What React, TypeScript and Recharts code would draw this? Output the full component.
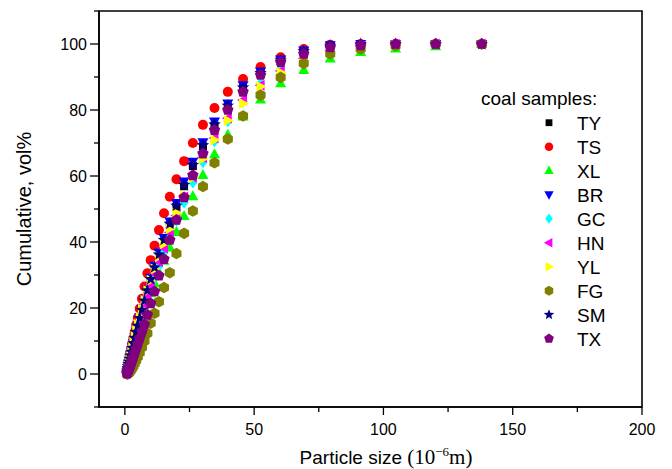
import React from "react";
import { ScatterChart, Scatter, XAxis, YAxis, Legend, Label, ReferenceArea } from "recharts";

// particle size bins (um), shared by every sample
const sizes = [
  0.83, 0.96, 1.1, 1.26, 1.45, 1.66, 1.91, 2.19, 2.51, 2.88, 3.31, 3.8, 4.37, 5.01, 5.75, 6.61,
  7.59, 8.71, 10.0, 11.48, 13.18, 15.14, 17.38, 19.95, 22.91, 26.3, 30.2, 34.67, 39.81, 45.71,
  52.48, 60.26, 69.18, 79.43, 91.2, 104.7, 120.2, 138.0,
];

// cumulative vol% per sample
const ty = [0.4, 1.0, 1.7, 2.3, 2.9, 3.6, 4.5, 5.4, 6.5, 7.8, 9.1, 10.7, 12.5, 14.4, 16.6, 19.1, 21.9, 25.0, 28.4, 31.9, 35.8, 40.2, 45.1, 50.7, 56.9, 63.0, 69.0, 75.3, 81.0, 86.6, 91.0, 94.9, 97.8, 99.6, 100, 100, 100, 100];
const ts = [0.5, 1.3, 2.1, 2.8, 3.6, 4.5, 5.5, 6.6, 7.9, 9.3, 10.9, 12.7, 14.8, 17.1, 19.8, 22.8, 26.5, 30.5, 34.5, 38.9, 43.6, 48.7, 53.7, 59.0, 64.5, 70.0, 75.5, 80.6, 85.5, 89.4, 93.0, 96.0, 98.5, 99.8, 100, 100, 100, 100];
const xl = [0.3, 0.7, 1.2, 1.8, 2.4, 3.1, 3.9, 4.8, 5.8, 7.0, 8.3, 9.7, 11.3, 13.0, 15.0, 17.0, 19.3, 21.8, 24.5, 27.5, 30.8, 34.3, 38.3, 43.0, 47.9, 53.9, 60.3, 66.6, 72.5, 78.0, 83.2, 88.1, 92.1, 95.6, 97.6, 98.6, 99.3, 100];
const br = [0.4, 1.1, 1.8, 2.4, 3.1, 3.8, 4.7, 5.7, 6.8, 8.1, 9.5, 11.1, 12.9, 14.9, 17.2, 19.8, 22.6, 25.7, 29.2, 32.8, 36.8, 41.2, 46.2, 51.8, 58.3, 64.3, 70.2, 76.5, 82.0, 87.5, 91.7, 95.3, 98.0, 99.6, 100, 100, 100, 100];
const gc = [0.3, 0.9, 1.5, 2.1, 2.8, 3.5, 4.3, 5.2, 6.2, 7.3, 8.6, 10.0, 11.6, 13.4, 15.4, 17.6, 20.1, 22.8, 25.8, 29.1, 32.7, 36.8, 41.4, 46.4, 52.0, 58.0, 64.2, 70.5, 76.6, 82.5, 88.0, 92.6, 96.2, 98.5, 99.6, 100, 100, 100];
const hn = [0.3, 0.9, 1.6, 2.2, 2.9, 3.6, 4.5, 5.4, 6.5, 7.6, 8.9, 10.4, 12.1, 14.0, 16.1, 18.4, 21.0, 23.8, 26.9, 30.3, 34.0, 38.2, 42.9, 48.0, 53.6, 59.6, 65.6, 71.5, 77.5, 83.0, 87.5, 91.8, 95.6, 98.0, 99.4, 99.9, 100, 100];
const yl = [0.4, 1.1, 1.8, 2.5, 3.2, 4.0, 4.9, 5.9, 7.0, 8.3, 9.7, 11.3, 13.1, 15.0, 17.2, 19.6, 22.3, 25.2, 28.4, 31.8, 35.5, 39.5, 44.0, 48.8, 54.0, 59.5, 65.2, 70.9, 76.8, 82.0, 87.1, 91.4, 95.0, 97.2, 99.0, 99.7, 100, 100];
const fg = [0.0, 0.05, 0.1, 0.2, 0.3, 0.5, 0.7, 1.0, 1.4, 1.9, 2.5, 3.2, 4.1, 5.2, 6.5, 8.1, 10.0, 12.3, 15.4, 18.4, 21.9, 26.2, 30.7, 36.5, 42.6, 49.4, 56.8, 64.0, 71.2, 78.2, 84.5, 89.9, 94.1, 97.0, 98.5, 99.5, 100, 100];
const sm = [0.4, 1.0, 1.7, 2.3, 3.0, 3.7, 4.6, 5.6, 6.7, 7.9, 9.3, 10.9, 12.7, 14.6, 16.9, 19.4, 22.2, 25.3, 28.7, 32.3, 36.2, 40.6, 45.5, 51.0, 57.3, 63.3, 69.3, 75.6, 81.3, 86.8, 91.2, 95.0, 97.8, 99.5, 100, 100, 100, 100];
const tx = [0.1, 0.3, 0.5, 0.8, 1.1, 1.5, 2.0, 2.6, 3.3, 4.1, 5.1, 6.3, 7.6, 9.1, 10.9, 12.8, 15.0, 17.9, 21.4, 25.0, 29.8, 34.8, 40.6, 46.7, 53.5, 60.2, 66.8, 73.9, 80.0, 85.5, 90.6, 94.5, 97.0, 99.0, 99.6, 100, 100, 100];

const xTicks = [0, 25, 50, 75, 100, 125, 150, 175, 200];
const yTicks = [-10, 0, 10, 20, 30, 40, 50, 60, 70, 80, 90, 100, 110];

const samples = [
  { name: "TY", color: "#000000", kind: "square", values: ty },
  { name: "TS", color: "#ff0000", kind: "circle", values: ts },
  { name: "XL", color: "#00ff00", kind: "up", values: xl },
  { name: "BR", color: "#0000ff", kind: "down", values: br },
  { name: "GC", color: "#00ffff", kind: "diamond", values: gc },
  { name: "HN", color: "#ff00ff", kind: "left", values: hn },
  { name: "YL", color: "#ffff00", kind: "right", values: yl },
  { name: "FG", color: "#808000", kind: "hexagon", values: fg },
  { name: "SM", color: "#000080", kind: "star", values: sm },
  { name: "TX", color: "#800080", kind: "pentagon", values: tx },
];

const NARROW = "'Liberation Sans Narrow', 'Arial Narrow', Arial, sans-serif";
const SANS = "Arial, 'Liberation Sans', sans-serif";
const SERIF = "'Liberation Serif', 'Times New Roman', serif";

function polygon(cx: number, cy: number, n: number, r: number, start: number) {
  const pts: string[] = [];
  for (let i = 0; i < n; i++) {
    const a = start + (i * 2 * Math.PI) / n;
    pts.push(`${cx + r * Math.cos(a)},${cy + r * Math.sin(a)}`);
  }
  return pts.join(" ");
}

function star(cx: number, cy: number, ro: number, ri: number) {
  const pts: string[] = [];
  for (let i = 0; i < 10; i++) {
    const r = i % 2 === 0 ? ro : ri;
    const a = -Math.PI / 2 + (i * Math.PI) / 5;
    pts.push(`${cx + r * Math.cos(a)},${cy + r * Math.sin(a)}`);
  }
  return pts.join(" ");
}

function Marker({ kind, cx, cy, color, k = 1 }: any) {
  if (cx == null || cy == null) return null;
  switch (kind) {
    case "square":
      return <rect x={cx - 4 * k} y={cy - 4 * k} width={8 * k} height={8 * k} fill={color} />;
    case "circle":
      return <circle cx={cx} cy={cy} r={5 * k} fill={color} />;
    case "up":
      return <polygon points={`${cx},${cy - 6 * k} ${cx + 5.5 * k},${cy + 4 * k} ${cx - 5.5 * k},${cy + 4 * k}`} fill={color} />;
    case "down":
      return <polygon points={`${cx},${cy + 6 * k} ${cx + 5.5 * k},${cy - 4 * k} ${cx - 5.5 * k},${cy - 4 * k}`} fill={color} />;
    case "left":
      return <polygon points={`${cx - 6 * k},${cy} ${cx + 4 * k},${cy - 5.5 * k} ${cx + 4 * k},${cy + 5.5 * k}`} fill={color} />;
    case "right":
      return <polygon points={`${cx + 6 * k},${cy} ${cx - 4 * k},${cy - 5.5 * k} ${cx - 4 * k},${cy + 5.5 * k}`} fill={color} />;
    case "diamond":
      return <polygon points={`${cx},${cy - 6 * k} ${cx + 4.5 * k},${cy} ${cx},${cy + 6 * k} ${cx - 4.5 * k},${cy}`} fill={color} />;
    case "hexagon":
      return <polygon points={polygon(cx, cy, 6, 5.8 * k, -Math.PI / 2)} fill={color} />;
    case "pentagon":
      return <polygon points={polygon(cx, cy, 5, 6 * k, -Math.PI / 2)} fill={color} />;
    case "star":
      return <polygon points={star(cx, cy, 6.5 * k, 2.8 * k)} fill={color} />;
    default:
      return null;
  }
}

function XTick(p: any) {
  const v = p.payload.value;
  const major = v % 50 === 0;
  return (
    <g>
      <line x1={p.x} y1={p.y} x2={p.x} y2={p.y + (major ? 8 : 5)} stroke="#000" strokeWidth={1.3} />
      {major && (
        <text x={p.x} y={p.y + 27.5} textAnchor="middle" fontSize={16} fontFamily={NARROW} fill="#000">
          {v}
        </text>
      )}
    </g>
  );
}

function YTick(p: any) {
  const v = p.payload.value;
  const major = v >= 0 && v <= 100 && v % 20 === 0;
  return (
    <g>
      <line x1={p.x} y1={p.y} x2={p.x - (major ? 9 : 5)} y2={p.y} stroke="#000" strokeWidth={1.3} />
      {major && (
        <text x={p.x - 12} y={p.y + 5.8} textAnchor="end" fontSize={16} fontFamily={NARROW} fill="#000">
          {v}
        </text>
      )}
    </g>
  );
}

function renderLegend() {
  return (
    <svg width={190} height={270}>
      <text x={11} y={25} fontSize={19} fontFamily={SANS} fill="#000">
        coal samples:
      </text>
      {samples.map((s, i) => {
        const cy = 42.7 + i * 24;
        return (
          <g key={s.name}>
            <Marker kind={s.kind} cx={79} cy={cy} color={s.color} k={0.85} />
            <text x={107} y={cy + 7} fontSize={19} fontFamily={SANS} fill="#000">
              {s.name}
            </text>
          </g>
        );
      })}
    </svg>
  );
}

export default function App() {
  const axisLine = { stroke: "#000", strokeWidth: 1.6 };
  return (
    <div style={{ position: "absolute", left: 0, top: 0, background: "#fff" }}>
      <ScatterChart width={672} height={469} margin={{ top: 11, right: 30, bottom: 0, left: 39 }}>
        <XAxis
          type="number"
          dataKey="x"
          domain={[-10, 200]}
          ticks={xTicks}
          allowDataOverflow
          height={62}
          tickSize={0}
          tickMargin={0}
          tickLine={false}
          axisLine={axisLine}
          tick={(p: any) => <XTick {...p} />}
        >
          <Label
            content={() => (
              <text x={386} y={464} textAnchor="middle" fontSize={19} fontFamily={NARROW} fill="#000">
                <tspan>Particle size </tspan>
                <tspan fontFamily={SERIF} fontSize={21}>(10</tspan>
                <tspan fontFamily={SERIF} fontSize={13} dy={-8}>
                  −6
                </tspan>
                <tspan fontFamily={SERIF} fontSize={21} dy={8}>
                  m)
                </tspan>
              </text>
            )}
          />
        </XAxis>
        <YAxis
          type="number"
          dataKey="y"
          domain={[-10, 110]}
          ticks={yTicks}
          allowDataOverflow
          width={60}
          tickSize={0}
          tickMargin={0}
          tickLine={false}
          axisLine={axisLine}
          tick={(p: any) => <YTick {...p} />}
        >
          <Label
            content={() => (
              <text
                x={24}
                y={209}
                transform="rotate(-90 24 209)"
                textAnchor="middle"
                dominantBaseline="central"
                fontSize={20}
                fontFamily={SANS}
                fill="#000"
              >
                Cumulative, vol%
              </text>
            )}
          />
        </YAxis>
        {/* plot frame */}
        <ReferenceArea
          x1={-10}
          x2={200}
          y1={-10}
          y2={110}
          fill="none"
          fillOpacity={0}
          stroke="#000"
          strokeWidth={1.6}
          strokeOpacity={1}
        />
        <Legend
          layout="horizontal"
          align="center"
          verticalAlign="middle"
          content={renderLegend}
          wrapperStyle={{ left: 470, top: 80, width: 190, height: 270 }}
        />
        {samples.map((s) => (
          <Scatter
            key={s.name}
            name={s.name}
            data={sizes.map((x, i) => ({ x, y: s.values[i] }))}
            fill={s.color}
            isAnimationActive={false}
            shape={(p: any) => <Marker kind={s.kind} cx={p.cx} cy={p.cy} color={s.color} />}
          />
        ))}
      </ScatterChart>
    </div>
  );
}
